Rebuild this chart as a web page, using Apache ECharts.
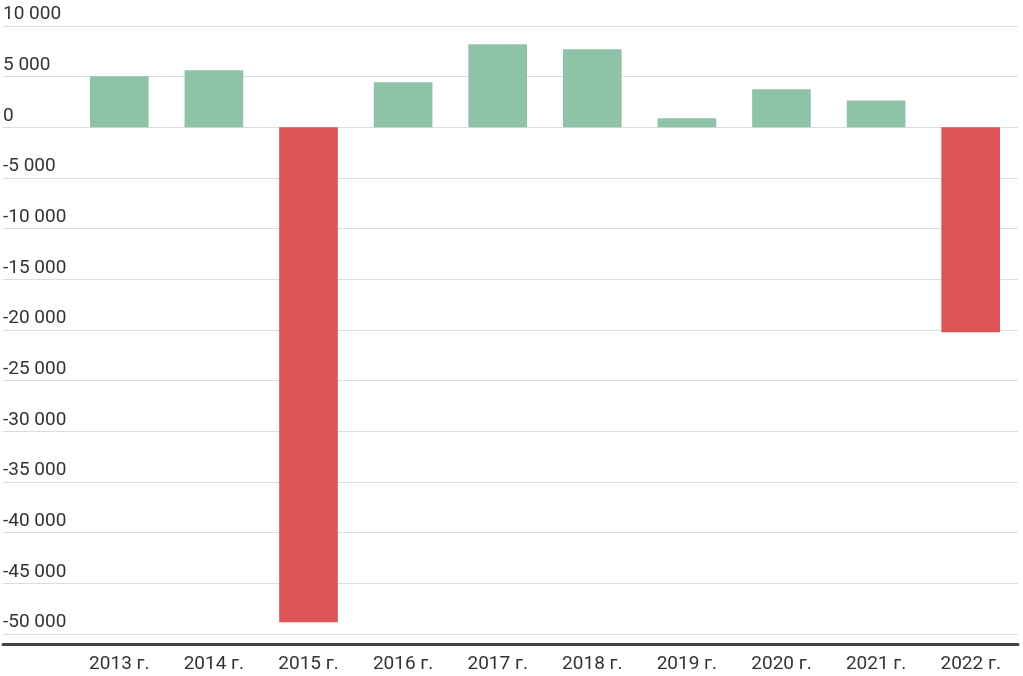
<!DOCTYPE html>
<html>
<head>
<meta charset="utf-8">
<script src="https://cdn.jsdelivr.net/npm/echarts@6/dist/echarts.min.js"></script>
<style>
html,body{margin:0;padding:0;background:#fff;}
#chart{width:1023px;height:676px;}
</style>
</head>
<body>
<div id="chart"></div>
<script>
const categories = ['2013 г.','2014 г.','2015 г.','2016 г.','2017 г.','2018 г.','2019 г.','2020 г.','2021 г.','2022 г.'];
const values = [5030, 5630, -48850, 4440, 8190, 7700, 890, 3750, 2660, -20230];
const yMin = -50000, yMax = 10000, yStep = 5000;

const fmt = v => {
  const s = String(Math.abs(v)).replace(/\B(?=(\d{3})+(?!\d))/g, ' ');
  return (v < 0 ? '-' : '') + s;
};

const chart = echarts.init(document.getElementById('chart'));
chart.setOption({
  animation: false,
  backgroundColor: '#ffffff',
  textStyle: { fontFamily: 'Roboto' },
  grid: [
    { left: 3, right: 5, top: 26, bottom: 42 },
    { left: 72, right: 5, top: 26, bottom: 42 }
  ],
  xAxis: [
    { gridIndex: 0, type: 'value', min: 0, max: 1, position: 'bottom', offset: 10,
      axisLine: { show: true, onZero: false, lineStyle: { color: '#444', width: 3 } },
      axisTick: { show: false }, axisLabel: { show: false }, splitLine: { show: false } },
    { gridIndex: 1, type: 'category', data: categories,
      axisLine: { show: false }, axisTick: { show: false }, splitLine: { show: false },
      axisLabel: { color: '#333', fontSize: 19, fontFamily: 'Roboto', margin: 21 } }
  ],
  yAxis: [
    { gridIndex: 0, type: 'value', min: yMin, max: yMax, interval: yStep,
      axisLine: { show: false }, axisTick: { show: false },
      splitLine: { show: true, lineStyle: { color: '#dcdcdc', width: 1 } },
      axisLabel: { inside: true, margin: 0, verticalAlign: 'bottom', padding: [0,0,2,0],
        color: '#333', fontSize: 19, fontFamily: 'Roboto', formatter: fmt } },
    { gridIndex: 1, type: 'value', min: yMin, max: yMax, interval: yStep, show: false,
      splitLine: { show: false } }
  ],
  series: [{
    type: 'bar',
    xAxisIndex: 1, yAxisIndex: 1,
    data: values,
    barCategoryGap: '38%',
    itemStyle: { color: p => p.value < 0 ? '#dc5456' : '#8ec3a7' }
  }]
});
</script>
</body>
</html>
